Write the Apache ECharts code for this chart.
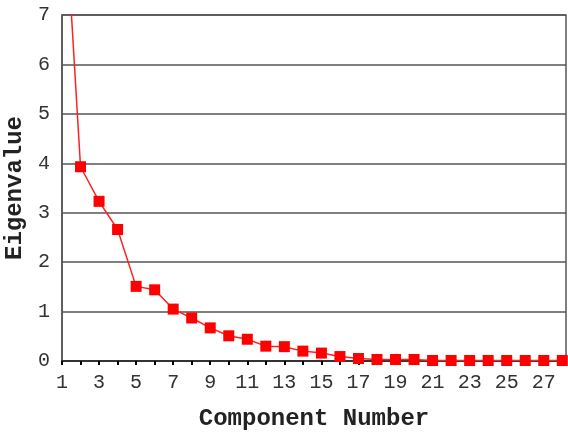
<!DOCTYPE html>
<html>
<head>
<meta charset="utf-8">
<script src="https://cdn.jsdelivr.net/npm/echarts@6/dist/echarts.min.js"></script>
<style>html,body{margin:0;padding:0;background:#fff}#c{width:568px;height:434px}</style>
</head>
<body>
<div id="c"></div>
<script>
const components = [1,2,3,4,5,6,7,8,9,10,11,12,13,14,15,16,17,18,19,20,21,22,23,24,25,26,27,28];
const eigenvalues = [10.2,3.93,3.23,2.66,1.51,1.44,1.05,0.87,0.67,0.51,0.44,0.30,0.29,0.20,0.16,0.09,0.05,0.03,0.03,0.03,0.01,0.01,0.01,0.01,0.01,0.01,0.01,0.01];
const xTitle = 'Component Number';
const yTitle = 'Eigenvalue';

const chart = echarts.init(document.getElementById('c'), null, {renderer:'canvas'});
const mono = '"Liberation Mono", "DejaVu Sans Mono", monospace';
chart.setOption({
  animation:false,
  grid:{left:62, top:15, right:2, bottom:73, show:true, borderColor:'#555', borderWidth:1.5,
    containLabel:false, outerBoundsMode:'none'},
  xAxis:{
    type:'value', min:1, max:28.2, interval:1,
    name:xTitle, nameLocation:'middle', nameGap:46,
    nameTextStyle:{fontFamily:mono, fontSize:24, fontWeight:'bold', color:'#222'},
    axisLine:{lineStyle:{color:'#333', width:2}},
    axisTick:{show:true, length:4, lineStyle:{color:'#000', width:2}},
    axisLabel:{fontFamily:mono, fontSize:20, color:'#333', margin:12, showMaxLabel:false,
      formatter:v => (Number.isInteger(v) && v % 2 === 1) ? String(v) : ''},
    splitLine:{show:false}
  },
  yAxis:{
    type:'value', min:0, max:7, interval:1,
    name:yTitle, nameLocation:'middle', nameGap:33, nameRotate:90,
    nameTextStyle:{fontFamily:mono, fontSize:24, fontWeight:'bold', color:'#222'},
    axisLine:{show:true, lineStyle:{color:'#555', width:1.5}},
    axisTick:{show:false},
    axisLabel:{fontFamily:mono, fontSize:20, color:'#333', margin:12},
    splitLine:{show:true, lineStyle:{color:'#555', width:1.5}}
  },
  series:[{
    type:'line', clip:true,
    data:components.map((c,i)=>[c, eigenvalues[i]]),
    symbol:'rect', symbolSize:11,
    lineStyle:{color:'#ff2020', width:1.5},
    itemStyle:{color:'#ff0000'}
  }]
});
</script>
</body>
</html>
